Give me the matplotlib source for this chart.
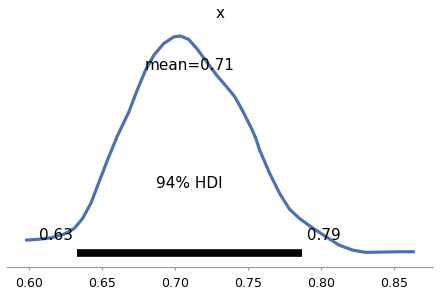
import matplotlib
matplotlib.use("Agg")
import matplotlib.pyplot as plt

# density curve
x_vals = [0.5980, 0.6059, 0.6150, 0.6240, 0.6309, 0.6366, 0.6422, 0.6479, 0.6536,
          0.6604, 0.6683, 0.6740, 0.6797, 0.6854, 0.6922, 0.6990, 0.7035, 0.7092,
          0.7149, 0.7217, 0.7285, 0.7354, 0.7410, 0.7467, 0.7524, 0.7556, 0.7580,
          0.7649, 0.7717, 0.7785, 0.7853, 0.7943, 0.8035, 0.8125, 0.8216, 0.8307,
          0.8420, 0.8534, 0.8636]
density = [0.735, 0.765, 0.835, 0.995, 1.241, 1.674, 2.322, 3.256, 4.195,
           5.240, 6.283, 7.222, 8.086, 8.735, 9.241, 9.527, 9.570, 9.427,
           9.025, 8.445, 7.870, 7.364, 6.932, 6.283, 5.565, 5.100, 4.627,
           3.619, 2.754, 2.070, 1.670, 1.260, 0.878, 0.519, 0.303, 0.203,
           0.216, 0.229, 0.229]
mean_val = 0.71
hdi_low = 0.633
hdi_high = 0.787
hdi_prob = 94
title = "x"

fig = plt.figure(figsize=(4.4, 2.96), dpi=100)
ax = fig.add_axes([7 / 440, 29 / 296, 426 / 440, 241 / 296])

ax.plot(x_vals, density, color="#4c72b0", lw=2.3, solid_capstyle="round",
        solid_joinstyle="round")
ax.plot([hdi_low, hdi_high], [0.19, 0.19], lw=5.5, color="k", solid_capstyle="butt")

ax.text(hdi_low, 0.72, "%.2f " % hdi_low, ha="right", fontsize=11)
ax.text(hdi_high, 0.72, " %.2f" % hdi_high, ha="left", fontsize=11)
ax.text((hdi_low + hdi_high) / 2, 3.00, "%d%% HDI" % hdi_prob, ha="center", fontsize=11)
ax.text(mean_val, 8.1, "mean=%.2f" % mean_val, ha="center", fontsize=11)

ax.set_title(title, fontsize=11, pad=6)
ax.set_ylim(-0.43, 10.0)
ax.margins(x=0.05)
ax.set_xticks([0.60, 0.65, 0.70, 0.75, 0.80, 0.85])
ax.set_xticklabels(["0.60", "0.65", "0.70", "0.75", "0.80", "0.85"])
ax.tick_params(axis="x", length=2, color="#999999", labelsize=9, pad=5)
ax.set_yticks([])
for s in ["top", "left", "right"]:
    ax.spines[s].set_visible(False)
ax.spines["bottom"].set_color("#999999")

fig.savefig("out.png", dpi=100)
